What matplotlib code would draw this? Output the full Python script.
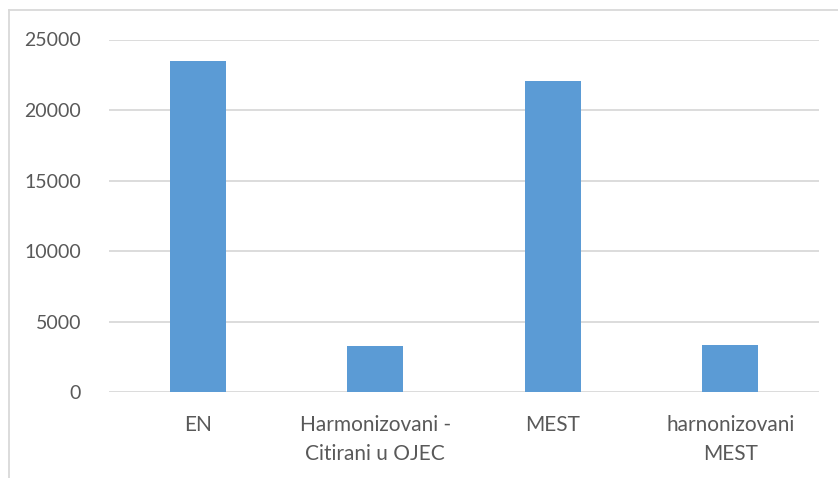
import matplotlib
matplotlib.use("Agg")
import matplotlib.pyplot as plt
from matplotlib.lines import Line2D

categories = ["EN", "Harmonizovani -\nCitirani u OJEC", "MEST", "harnonizovani\nMEST"]
values = [23480, 3260, 22060, 3330]
yticks = [0, 5000, 10000, 15000, 20000, 25000]

plt.rcParams["font.family"] = ["Lato", "DejaVu Sans"]
TXT = "#595959"
GRID = "#D9D9D9"

fig = plt.figure(figsize=(8.38, 4.78), dpi=100)
ax = fig.add_axes([109 / 838, 1 - 392.3 / 478, 710 / 838, 352.8 / 478])

x = range(len(categories))
ax.bar(x, values, width=0.315, color="#5B9BD5", zorder=3)

ax.set_xlim(-0.5, len(categories) - 0.5)
ax.set_ylim(0, 25000)
ax.set_yticks(yticks)
ax.set_yticklabels([str(t) for t in yticks])
ax.set_xticks(list(x))
ax.set_xticklabels(categories, linespacing=1.6)

ax.grid(axis="y", color=GRID, linewidth=1.3, zorder=0)
for s in ax.spines.values():
    s.set_visible(False)
ax.tick_params(axis="both", length=0, colors=TXT)
ax.tick_params(axis="y", pad=20, labelsize=14)
ax.tick_params(axis="x", pad=16, labelsize=15)

# chart border (only top and left visible in the crop)
fig.add_artist(Line2D([8.5 / 838, 8.5 / 838], [0, 1 - 10 / 478],
                      transform=fig.transFigure, color=GRID, lw=1.3))
fig.add_artist(Line2D([8.5 / 838, 1], [1 - 10 / 478, 1 - 10 / 478],
                      transform=fig.transFigure, color=GRID, lw=1.3))

fig.savefig("out.png", dpi=100)
